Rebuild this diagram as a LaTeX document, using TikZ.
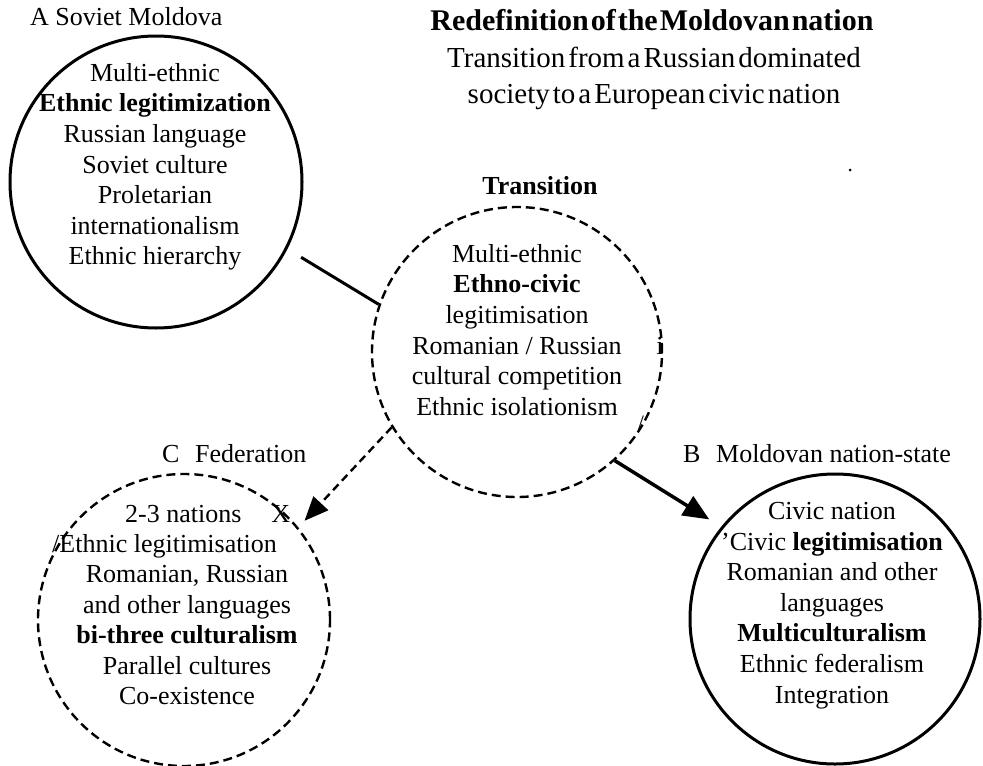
\documentclass[tikz,border=0pt]{standalone}
\usepackage{fontspec}
\setmainfont{Liberation Serif}
\usetikzlibrary{arrows.meta}
\newcommand\tightsp[1]{\spaceskip=#1 plus 1pt\relax}
\begin{document}
\begin{tikzpicture}[x=1pt,y=-1pt,
  body/.style={font=\fontsize{26}{30.6}\selectfont, align=center, inner sep=0pt, anchor=north},
  lbl/.style={font=\fontsize{26}{30.6}\selectfont, inner sep=0pt, anchor=base west},
  ring/.style={circle, draw, line width=3pt, inner sep=0pt, minimum size=292pt},
  dring/.style={ring, line width=2.4pt, dash pattern=on 9pt off 5pt},
  link/.style={line width=3pt},
  dlink/.style={line width=2.4pt, dash pattern=on 8pt off 5pt, -{Triangle[length=24pt,width=20pt]}},
  slink/.style={line width=3.5pt, -{Triangle[length=26pt,width=22pt]}}
]
\useasboundingbox (0,0) rectangle (983,766);

% circles
\node[ring] (A) at (156,182) {};
\node[dring, minimum size=290pt] (T) at (517,352) {};
\node[dring] (C) at (184,620) {};
\node[ring, minimum size=290pt] (B) at (835,619) {};

% titles
\node[inner sep=0pt, anchor=base, font=\fontsize{30}{36}\selectfont\bfseries] (title) at (652,30) {\tightsp{2pt}Redefinition of the Moldovan nation};
\node[inner sep=0pt, anchor=north, align=center, font=\fontsize{29}{35.5}\selectfont] (sub) at (654,47) {\tightsp{3pt}Transition from a Russian dominated\\\tightsp{3pt}society to a European civic nation};

% labels
\node[lbl] (la) at (30,25) {A Soviet Moldova};
\node[inner sep=0pt, anchor=base, font=\fontsize{26}{30.6}\selectfont\bfseries] (lt) at (540,194) {Transition};
\node[lbl] (lc) at (162,462) {C\hspace{0.35em} Federation};
\node[lbl] (lb) at (683,462) {B\hspace{0.35em} Moldovan nation-state};

% circle texts
\node[body] (ta) at (155,63) {Multi-ethnic\\\textbf{Ethnic legitimization}\\Russian language\\Soviet culture\\Proletarian\\internationalism\\Ethnic hierarchy};
\node[body] (tt) at (517,244) {Multi-ethnic\\\textbf{Ethno-civic}\\legitimisation\\Romanian / Russian\\cultural competition\\Ethnic isolationism};
\node[lbl] (tc1) at (125,522) {2-3 nations\hspace{30pt}X};
\node[lbl] (tc2) at (52,552) {/Ethnic legitimisation};
\node[body] (tc) at (187,565) {Romanian, Russian\\and other languages\\\textbf{bi-three culturalism}\\Parallel cultures\\Co-existence};
\node[body] (tb) at (832,502) {Civic nation\\'Civic \textbf{legitimisation}\\Romanian and other\\languages\\\textbf{Multiculturalism}\\Ethnic federalism\\Integration};

% stray marks
\node[inner sep=0pt, anchor=base, font=\fontsize{26}{30}\selectfont] (ti) at (660,354) {i};
\node[inner sep=0pt, font=\fontsize{22}{26}\selectfont] (ts) at (641,423) {/};
\node[circle, fill, inner sep=0pt, minimum size=3pt] (dot) at (850,170) {};

% connectors
\draw[link, shorten <=16pt] (A.-27) -- (T.161);
\draw[dlink, shorten >=9pt] (T.211) -- (C.39);
\draw[slink, shorten >=14pt] (T.-48) -- (B.141.6);
\end{tikzpicture}
\end{document}
